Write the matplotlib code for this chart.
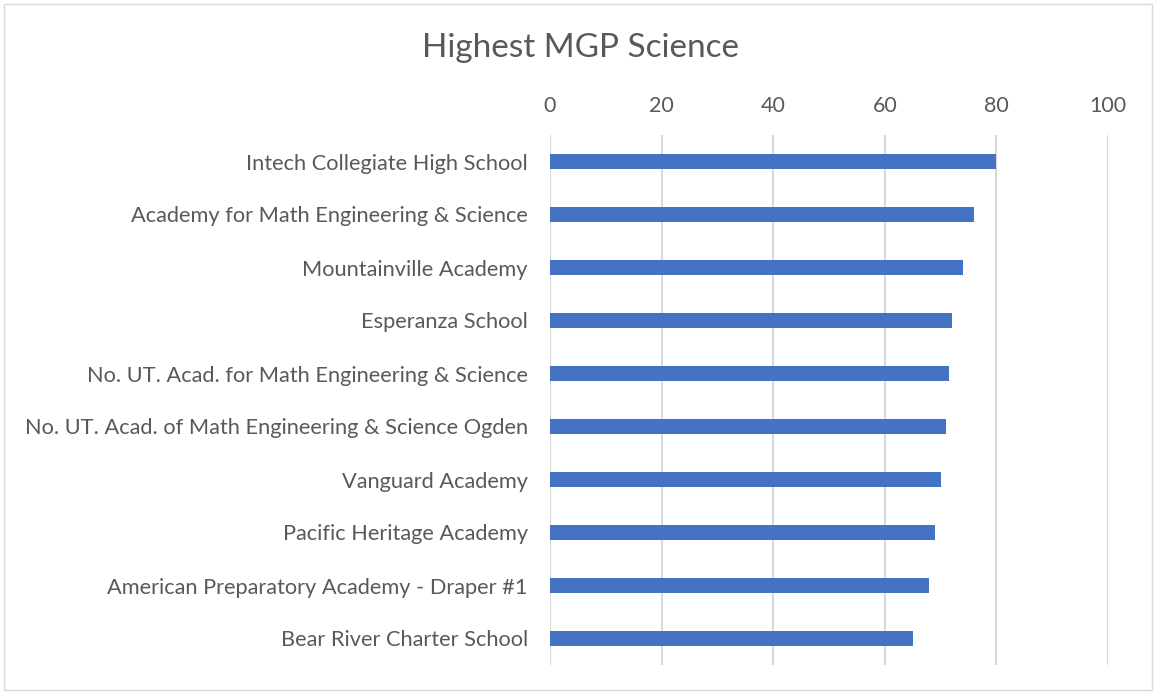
import matplotlib.pyplot as plt
from matplotlib.patches import Rectangle

schools = [
    "Intech Collegiate High School",
    "Academy for Math Engineering & Science",
    "Mountainville Academy",
    "Esperanza School",
    "No. UT. Acad. for Math Engineering & Science",
    "No. UT. Acad. of Math Engineering & Science Ogden",
    "Vanguard Academy",
    "Pacific Heritage Academy",
    "American Preparatory Academy - Draper #1",
    "Bear River Charter School",
]
mgp = [80, 76, 74, 72, 71.5, 71, 70, 69, 68, 65]
xticks = [0, 20, 40, 60, 80, 100]

plt.rcParams['font.family'] = ['Lato', 'DejaVu Sans']

fig = plt.figure(figsize=(11.56, 6.94), dpi=100)
ax = fig.add_axes([550/1156, 1 - 665/694, 558/1156, 530/694])

ypos = list(range(len(schools)))
ax.barh(ypos, mgp, height=0.3, color='#4472C4', zorder=3)
ax.set_ylim(len(schools) - 0.5, -0.5)
ax.set_yticks(ypos)
ax.set_yticklabels(schools, fontsize=15.7, color='#595959')

ax.set_xlim(0, 100)
ax.set_xticks(xticks)
ax.xaxis.tick_top()
ax.tick_params(axis='x', labelsize=15.5, labelcolor='#595959', length=0, pad=14)
ax.tick_params(axis='y', length=0, pad=16)
ax.grid(axis='x', color='#d9d9d9', linewidth=1.5, zorder=0)
for s in ax.spines.values():
    s.set_visible(False)

fig.text(580/1156, 1 - 48/694, "Highest MGP Science", ha='center', va='center',
         fontsize=24, color='#595959')

fig.patches.append(Rectangle((4/1156, 4/694), 1 - 8/1156, 1 - 8/694,
                             transform=fig.transFigure, fill=False,
                             edgecolor='#d9d9d9', linewidth=1))

fig.savefig('out.png', dpi=100)
